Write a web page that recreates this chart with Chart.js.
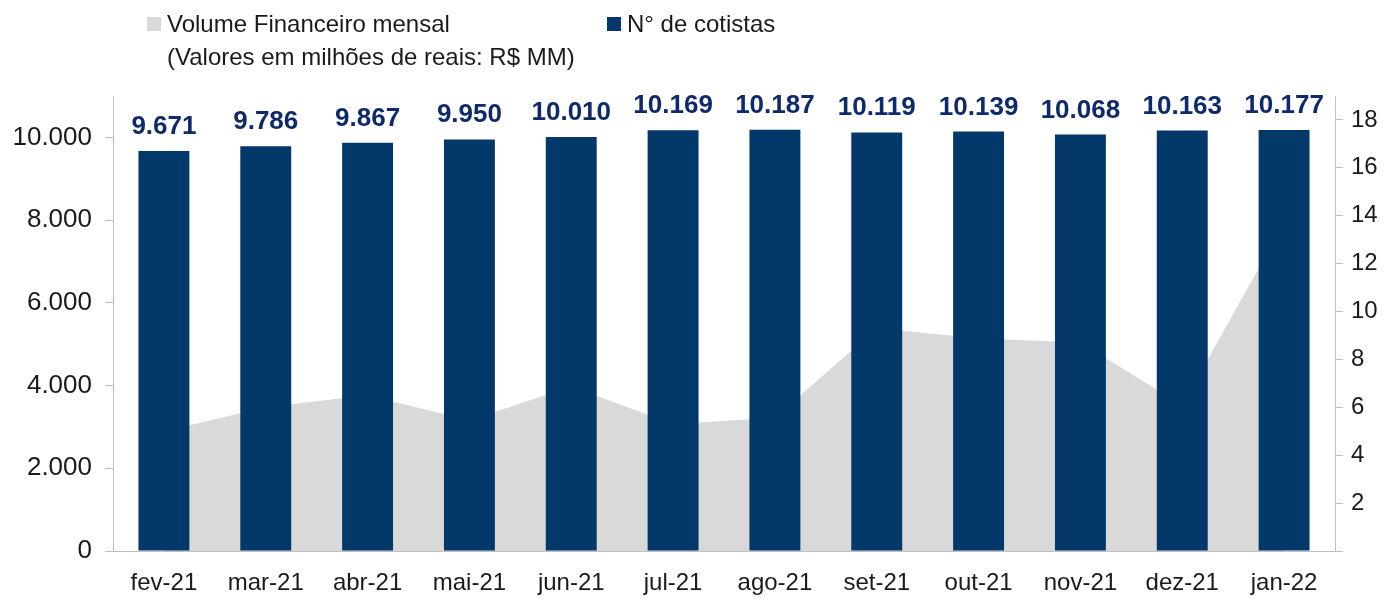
<!DOCTYPE html>
<html>
<head>
<meta charset="utf-8">
<script src="https://cdn.jsdelivr.net/npm/chart.js@4.4.1/dist/chart.umd.min.js"></script>
<style>
  html, body { margin: 0; padding: 0; background: #fff; }
  #wrap { position: relative; width: 1393px; height: 599px; font-family: "Liberation Sans", Arial, sans-serif; color: #1a1a1a; }
  #chart { position: absolute; left: 0; top: 0; }
  .lg { position: absolute; font-size: 24px; line-height: 33px; white-space: nowrap; }
  .sw { position: absolute; width: 14px; height: 14px; }
</style>
</head>
<body>
<div id="wrap">
  <canvas id="chart" width="1393" height="599"></canvas>
  <div class="sw" style="left:147px;top:17px;background:#d9d9d9"></div>
  <div class="lg" style="left:167px;top:7px">Volume Financeiro mensal<br>(Valores em milhões de reais: R$ MM)</div>
  <div class="sw" style="left:607px;top:17px;background:#02386a"></div>
  <div class="lg" style="left:627px;top:7px">N° de cotistas</div>
</div>
<script>
const meses = ['fev-21', 'mar-21', 'abr-21', 'mai-21', 'jun-21', 'jul-21', 'ago-21', 'set-21', 'out-21', 'nov-21', 'dez-21', 'jan-22'];
const cotistas = [9671, 9786, 9867, 9950, 10010, 10169, 10187, 10119, 10139, 10068, 10163, 10177];
const volume = [5.0, 6.0, 6.5, 5.45, 6.87, 5.3, 5.56, 9.3, 8.88, 8.7, 6.1, 13.7];
const ticksCotistas = [0, 2000, 4000, 6000, 8000, 10000];
const ticksVolume = [0, 2, 4, 6, 8, 10, 12, 14, 16, 18];

const milhar = v => String(v).replace(/\B(?=(\d{3})+(?!\d))/g, '.');

// rotulos em cima das barras
const rotulos = {
    id: 'rotulos',
    afterDatasetsDraw(chart) {
        const ctx = chart.ctx;
        const meta = chart.getDatasetMeta(0);
        ctx.save();
        ctx.font = 'bold 26px "Liberation Sans", Arial, sans-serif';
        ctx.fillStyle = '#0f2a6b';
        ctx.textAlign = 'center';
        ctx.textBaseline = 'alphabetic';
        meta.data.forEach((bar, i) => {
            ctx.fillText(milhar(cotistas[i]), bar.x, bar.y - 17);
        });
        ctx.restore();
    }
};

const cinzaEixo = '#bfbfbf';
const fonte = { family: '"Liberation Sans", Arial, sans-serif', size: 24 };

new Chart(document.getElementById('chart').getContext('2d'), {
    type: 'bar',
    data: {
        labels: meses,
        datasets: [
            {
                type: 'bar',
                label: 'N° de cotistas',
                data: cotistas,
                yAxisID: 'y',
                backgroundColor: '#02386a',
                categoryPercentage: 1,
                barPercentage: 0.5,
                order: 1
            },
            {
                type: 'line',
                label: 'Volume Financeiro mensal',
                data: volume,
                yAxisID: 'y2',
                backgroundColor: '#d9d9d9',
                borderWidth: 0,
                pointRadius: 0,
                tension: 0,
                fill: 'origin',
                order: 2
            }
        ]
    },
    options: {
        responsive: false,
        animation: false,
        devicePixelRatio: 1,
        layout: { padding: { top: 96, left: 0, right: 0, bottom: 0 } },
        plugins: {
            legend: { display: false },
            tooltip: { enabled: false }
        },
        scales: {
            x: {
                grid: { display: false },
                border: { display: true, color: cinzaEixo, width: 1 },
                ticks: { color: '#1a1a1a', font: fonte, padding: 10, maxRotation: 0 },
                afterFit: s => { s.height = 48; }
            },
            y: {
                position: 'left',
                min: 0,
                max: 11000,
                grid: { drawOnChartArea: false, drawTicks: true, tickLength: 8, color: cinzaEixo },
                border: { display: true, color: cinzaEixo, width: 1 },
                ticks: { color: '#1a1a1a', font: { family: fonte.family, size: 26 }, padding: 13, callback: v => milhar(v) },
                afterBuildTicks: s => { s.ticks = ticksCotistas.map(v => ({ value: v })); },
                afterFit: s => { s.width = 113; }
            },
            y2: {
                position: 'right',
                min: 0,
                max: 19,
                grid: { drawOnChartArea: false, drawTicks: true, tickLength: 8, color: cinzaEixo },
                border: { display: true, color: cinzaEixo, width: 1 },
                ticks: { color: '#1a1a1a', font: fonte, padding: 8, callback: v => (v === 0 ? '' : v) },
                afterBuildTicks: s => { s.ticks = ticksVolume.map(v => ({ value: v })); },
                afterFit: s => { s.width = 58; }
            }
        }
    },
    plugins: [rotulos]
});
</script>
</body>
</html>
